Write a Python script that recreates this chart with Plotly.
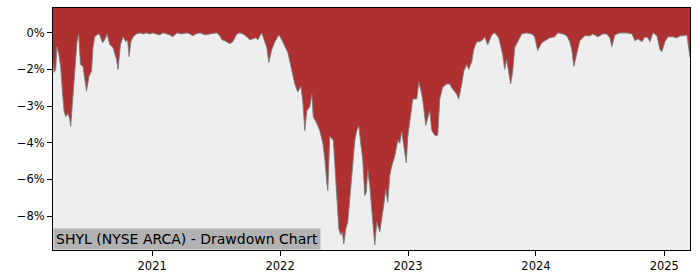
import pandas as pd
import plotly.graph_objects as go

# Time stamps as decimal years
years = [
    2020.227, 2020.236, 2020.248, 2020.258, 2020.273, 2020.287, 2020.300, 2020.313, 2020.326, 2020.344,
    2020.357, 2020.365, 2020.378, 2020.396, 2020.414, 2020.427, 2020.441, 2020.461, 2020.474, 2020.488,
    2020.508, 2020.527, 2020.539, 2020.552, 2020.578, 2020.591, 2020.613, 2020.630, 2020.648, 2020.670,
    2020.695, 2020.722, 2020.734, 2020.753, 2020.773, 2020.795, 2020.808, 2020.820, 2020.834, 2020.852,
    2020.878, 2020.904, 2020.930, 2020.951, 2020.982,
    2021.005, 2021.029, 2021.060, 2021.084, 2021.115, 2021.138, 2021.162, 2021.193, 2021.232, 2021.271,
    2021.295, 2021.318, 2021.341, 2021.373, 2021.412, 2021.451, 2021.482, 2021.505, 2021.529, 2021.545,
    2021.568, 2021.584, 2021.607, 2021.630, 2021.646, 2021.662, 2021.685, 2021.709, 2021.740, 2021.763,
    2021.787, 2021.810, 2021.826, 2021.841, 2021.857, 2021.880, 2021.896, 2021.912, 2021.935, 2021.959,
    2021.974, 2021.990,
    2022.013, 2022.037, 2022.060, 2022.076, 2022.091, 2022.115, 2022.138, 2022.162, 2022.177, 2022.193,
    2022.209, 2022.232, 2022.248, 2022.259, 2022.287, 2022.310, 2022.334, 2022.349, 2022.365, 2022.373,
    2022.388, 2022.404, 2022.416, 2022.427, 2022.443, 2022.459, 2022.474, 2022.486, 2022.498, 2022.513,
    2022.529, 2022.545, 2022.560, 2022.584, 2022.599, 2022.615, 2022.630, 2022.646, 2022.662, 2022.673,
    2022.685, 2022.701, 2022.716, 2022.728, 2022.740, 2022.755, 2022.779, 2022.802, 2022.826, 2022.841,
    2022.857, 2022.873, 2022.896, 2022.920, 2022.935, 2022.951, 2022.966, 2022.986, 2022.998,
    2023.021, 2023.037, 2023.068, 2023.084, 2023.107, 2023.119, 2023.138, 2023.154, 2023.170, 2023.185,
    2023.209, 2023.232, 2023.248, 2023.271, 2023.302, 2023.326, 2023.349, 2023.380, 2023.396, 2023.420,
    2023.435, 2023.459, 2023.474, 2023.498, 2023.513, 2023.537, 2023.560, 2023.584, 2023.599, 2023.623,
    2023.654, 2023.677, 2023.709, 2023.740, 2023.755, 2023.771, 2023.787, 2023.802, 2023.818, 2023.834,
    2023.857, 2023.888, 2023.927, 2023.966, 2023.990,
    2024.013, 2024.045, 2024.068, 2024.107, 2024.146, 2024.170, 2024.209, 2024.240, 2024.263, 2024.279,
    2024.295, 2024.318, 2024.341, 2024.380, 2024.420, 2024.443, 2024.482, 2024.521, 2024.552, 2024.576,
    2024.591, 2024.615, 2024.654, 2024.709, 2024.748, 2024.771, 2024.795, 2024.826, 2024.849, 2024.873,
    2024.888, 2024.912, 2024.943, 2024.966, 2024.982,
    2025.005, 2025.029, 2025.068, 2025.099, 2025.123, 2025.146, 2025.177, 2025.189, 2025.201,
]

# Drawdown in percent
drawdown = [
    -1.18, -1.62, -1.50, -0.57, -0.90, -1.42, -2.39, -3.19, -3.44, -3.31,
    -3.52, -3.84, -2.91, -1.58, -0.37, -0.05, -1.30, -1.38, -1.82, -2.39,
    -1.78, -1.58, -0.61, -0.17, -0.05, -0.09, -0.41, -0.29, -0.05, -0.49,
    -0.61, -1.10, -1.50, -0.49, -0.17, -0.37, -0.29, -0.98, -0.37, -0.17,
    -0.05, 0.00, -0.05, 0.00, -0.05,
    0.00, -0.05, -0.09, 0.00, -0.05, -0.09, -0.17, 0.00, -0.05, 0.00,
    -0.05, -0.13, -0.05, 0.00, -0.09, -0.05, 0.00, 0.00, -0.13, -0.29,
    -0.33, -0.37, -0.45, -0.37, -0.21, -0.05, 0.00, -0.05, -0.17, -0.29,
    -0.25, -0.21, -0.29, -0.17, 0.00, -0.37, -0.61, -1.22, -0.69, -0.37,
    -0.21, -0.09,
    -0.29, -0.53, -0.81, -1.18, -1.50, -2.10, -2.43, -2.19, -2.79, -4.00,
    -3.19, -3.03, -2.51, -3.44, -3.72, -4.00, -4.52, -5.13, -6.14, -6.46,
    -4.24, -4.32, -4.40, -5.33, -6.94, -8.03, -8.27, -8.15, -8.64, -8.03,
    -7.75, -6.73, -5.85, -4.40, -4.00, -3.80, -4.52, -5.21, -6.66, -6.54,
    -5.61, -6.26, -7.23, -8.15, -8.68, -7.75, -8.15, -7.35, -6.42, -6.94,
    -5.85, -5.45, -5.05, -4.40, -4.52, -4.04, -4.65, -5.33, -4.24,
    -3.19, -2.71, -2.71, -2.02, -2.51, -2.91, -3.80, -3.52, -3.19, -4.00,
    -4.20, -4.20, -2.71, -2.23, -2.10, -2.10, -2.31, -2.51, -2.71, -2.10,
    -1.58, -1.30, -1.50, -1.18, -0.69, -0.37, -0.37, -0.29, -0.17, -0.49,
    -0.09, 0.00, -0.21, -0.90, -1.50, -1.10, -1.70, -2.10, -1.58, -0.61,
    -0.37, -0.05, 0.00, -0.05, -0.17,
    -0.73, -0.41, -0.33, -0.21, -0.17, 0.00, -0.05, -0.13, -0.37, -0.69,
    -1.38, -0.90, -0.33, -0.13, -0.13, -0.05, -0.17, -0.05, -0.05, -0.21,
    -0.57, -0.09, 0.00, 0.00, -0.05, -0.33, -0.25, -0.37, -0.17, -0.21,
    -0.37, 0.00, -0.13, -0.69, -0.77,
    -0.37, -0.17, -0.17, -0.21, -0.13, -0.13, -0.09, -0.49, -1.02,
]

tick_vals = [0, -1.5, -3, -4.5, -6, -7.5]
tick_text = ["0%", "\u22122%", "\u22123%", "\u22124%", "\u22126%", "\u22128%"]
year_ticks = ["2021-01-01", "2022-01-01", "2023-01-01", "2024-01-01", "2025-01-01"]
year_labels = ["2021", "2022", "2023", "2024", "2025"]
title_text = "SHYL (NYSE ARCA) - Drawdown Chart"


def to_date(t):
    y = int(t)
    start = pd.Timestamp(year=y, month=1, day=1)
    end = pd.Timestamp(year=y + 1, month=1, day=1)
    return start + (end - start) * (t - y)


dates = [to_date(t) for t in years]

RED = "#af3030"
Y_TOP = 1.01
Y_BOTTOM = -8.89

fig = go.Figure()
fig.add_trace(go.Scatter(
    x=dates, y=drawdown, mode="lines",
    line=dict(color="rgba(125,125,125,0.9)", width=1),
    fill="tozeroy", fillcolor=RED, hoverinfo="skip", showlegend=False,
))

fig.add_shape(type="rect", xref="paper", yref="y", x0=0, x1=1, y0=-0.02, y1=Y_TOP,
              fillcolor=RED, line=dict(width=0), layer="below")

fig.add_annotation(
    xref="paper", yref="paper", x=0, y=0, xanchor="left", yanchor="bottom",
    text=title_text, showarrow=False, align="left",
    font=dict(family="DejaVu Sans", size=14, color="#000000"),
    bgcolor="#b2b2b2", borderpad=2,
)

axis_common = dict(
    showline=True, linecolor="black", linewidth=1, mirror=True,
    ticks="outside", ticklen=5, tickwidth=1, tickcolor="black",
    showgrid=False, zeroline=False,
    tickfont=dict(family="DejaVu Sans", size=11.5, color="#000000"),
)

fig.update_xaxes(
    type="date", range=[dates[0], dates[-1]],
    tickvals=year_ticks, ticktext=year_labels, **axis_common,
)
fig.update_yaxes(
    range=[Y_BOTTOM, Y_TOP], tickvals=tick_vals, ticktext=tick_text, **axis_common,
)

fig.update_layout(
    width=700, height=280,
    margin=dict(l=53, r=10, t=7, b=28),
    paper_bgcolor="white", plot_bgcolor="#eeeeee",
    showlegend=False,
)

fig.write_html("out.html")
